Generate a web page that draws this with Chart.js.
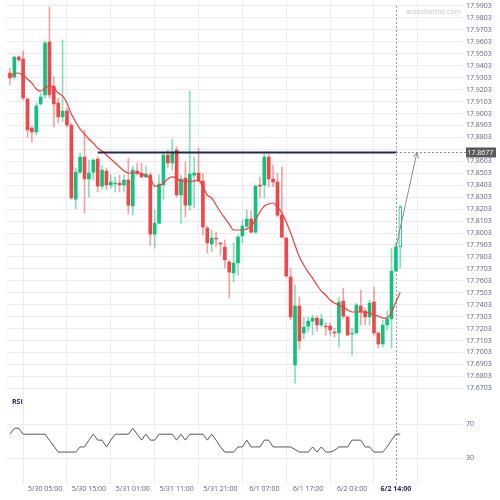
<!DOCTYPE html>
<html>
<head>
<meta charset="utf-8">
<script src="https://cdn.jsdelivr.net/npm/chart.js@4.4.0/dist/chart.umd.min.js"></script>
<style>
  html, body { margin: 0; padding: 0; background: #fff; }
</style>
</head>
<body>
<canvas id="chart" width="500" height="500"></canvas>
<script>
// hourly candles, index 0 = 5/29 21:00
const OPEN = [17.9342,17.9309,17.9476,17.9459,17.9124,17.8882,17.8848,17.9083,17.9158,17.9601,
  17.9233,17.9091,17.8974,17.9024,17.8907,17.8287,17.8513,17.8639,17.8455,17.8513,
  17.8622,17.8396,17.8522,17.8405,17.8413,17.8421,17.8405,17.8446,17.8229,17.8522,
  17.8505,17.8472,17.8488,17.7994,17.8086,17.8405,17.8656,17.8589,17.8698,17.8321,
  17.8463,17.8237,17.8488,17.8505,17.8438,17.8045,17.7911,17.7961,17.7919,17.7886,
  17.7760,17.7668,17.7752,17.7978,17.8061,17.8120,17.8011,17.8405,17.8405,17.8639,
  17.8455,17.8430,17.8153,17.7961,17.7635,17.6898,17.7392,17.7166,17.7224,17.7266,
  17.7291,17.7233,17.7224,17.7224,17.7174,17.7166,17.7434,17.7300,17.7158,17.7166,
  17.7392,17.7350,17.7300,17.7425,17.7166,17.7074,17.7233,17.7283,17.7685,17.7886];
const HIGH = [17.9384,17.9484,17.9484,17.9526,17.9133,17.8898,17.9091,17.9175,17.9610,17.9894,
  17.9309,17.9133,17.9618,17.9049,17.8924,17.8547,17.8672,17.8865,17.8614,17.8622,
  17.8639,17.8564,17.8547,17.8488,17.8472,17.8488,17.8488,17.8631,17.8564,17.8589,
  17.8589,17.8564,17.8505,17.8195,17.8488,17.8672,17.8698,17.8790,17.8723,17.8488,
  17.8597,17.9191,17.8639,17.8714,17.8505,17.8061,17.8028,17.8011,17.7928,17.7944,
  17.7777,17.7919,17.7986,17.8112,17.8195,17.8187,17.8405,17.8472,17.8681,17.8681,
  17.8572,17.8505,17.8555,17.7969,17.7710,17.7568,17.7467,17.7300,17.7300,17.7316,
  17.7308,17.7325,17.7258,17.7250,17.7208,17.7467,17.7542,17.7308,17.7208,17.7417,
  17.7526,17.7375,17.7442,17.7551,17.7174,17.7275,17.7350,17.7877,17.7919,17.8237];
const LOW = [17.9242,17.9292,17.9434,17.9116,17.8806,17.8764,17.8823,17.9074,17.9133,17.9133,
  17.8890,17.8924,17.8932,17.8890,17.8287,17.8204,17.8497,17.8170,17.8304,17.8446,
  17.8346,17.8371,17.8363,17.8379,17.8346,17.8346,17.8346,17.8162,17.8154,17.8488,
  17.8463,17.8463,17.7902,17.7877,17.8078,17.8287,17.8555,17.8530,17.8304,17.8086,
  17.8137,17.8195,17.8212,17.8430,17.7986,17.7835,17.7844,17.7886,17.7819,17.7710,
  17.7459,17.7593,17.7651,17.7919,17.8028,17.8003,17.8003,17.8296,17.8296,17.8388,
  17.8388,17.8137,17.7961,17.7635,17.7275,17.6747,17.7024,17.7116,17.7174,17.7149,
  17.7182,17.7216,17.7149,17.7149,17.7132,17.7049,17.7291,17.7141,17.6982,17.7158,
  17.7233,17.7233,17.7233,17.7149,17.7040,17.7049,17.7191,17.7040,17.7676,17.7710];
const CLOSE = [17.9300,17.9476,17.9451,17.9133,17.8865,17.8848,17.9066,17.9141,17.9593,17.9158,
  17.9083,17.8974,17.9024,17.8907,17.8296,17.8513,17.8639,17.8455,17.8505,17.8614,
  17.8396,17.8530,17.8405,17.8430,17.8421,17.8405,17.8446,17.8237,17.8530,17.8505,
  17.8472,17.8497,17.7994,17.8086,17.8413,17.8656,17.8589,17.8681,17.8321,17.8455,
  17.8237,17.8497,17.8505,17.8438,17.8053,17.7919,17.7961,17.7953,17.7911,17.7777,
  17.7676,17.7752,17.7969,17.8061,17.8120,17.8011,17.8396,17.8396,17.8639,17.8455,
  17.8430,17.8153,17.7969,17.7643,17.7300,17.7392,17.7099,17.7216,17.7266,17.7291,
  17.7233,17.7283,17.7216,17.7191,17.7166,17.7425,17.7308,17.7149,17.7166,17.7400,
  17.7342,17.7300,17.7417,17.7166,17.7074,17.7233,17.7283,17.7685,17.7886,17.8220];
const MA = [17.9309,17.9334,17.9342,17.9325,17.9292,17.9258,17.9208,17.9191,17.9216,17.9233,
  17.9216,17.9175,17.9150,17.9091,17.8999,17.8932,17.8873,17.8831,17.8790,17.8756,
  17.8714,17.8689,17.8656,17.8622,17.8589,17.8555,17.8522,17.8505,17.8505,17.8505,
  17.8497,17.8480,17.8463,17.8396,17.8396,17.8421,17.8455,17.8472,17.8463,17.8438,
  17.8438,17.8438,17.8438,17.8446,17.8388,17.8321,17.8296,17.8237,17.8179,17.8128,
  17.8078,17.8028,17.8028,17.8028,17.8036,17.8061,17.8112,17.8179,17.8229,17.8246,
  17.8254,17.8220,17.8170,17.8095,17.8003,17.7902,17.7802,17.7735,17.7676,17.7626,
  17.7568,17.7517,17.7484,17.7442,17.7417,17.7400,17.7383,17.7358,17.7342,17.7342,
  17.7342,17.7342,17.7333,17.7316,17.7308,17.7291,17.7291,17.7342,17.7425,17.7509];
const RSI = [58,65,65,58,58,58,58,58,58,51, 44,37,37,37,37,37,43,43,51,58,
  51,51,43,51,58,58,58,58,65,58, 51,58,51,51,58,58,58,58,51,58,
  51,58,58,58,58,51,58,51,43,37, 37,37,43,43,51,43,43,43,51,51,
  43,43,43,43,43,40,37,37,37,43, 37,43,37,37,39,43,43,43,51,51,
  51,43,43,37,37,37,43,51,58,58];

const TIME_TICKS = [8, 18, 28, 38, 48, 58, 68, 78, 88];
const TIME_LABELS = ['5/30 05:00', '5/30 15:00', '5/31 01:00', '5/31 11:00', '5/31 21:00',
  '6/1 07:00', '6/1 17:00', '6/2 03:00', '6/2 14:00'];
const PRICE_TICKS = [17.6703,17.6803,17.6903,17.7003,17.7103,17.7203,17.7303,17.7403,17.7503,17.7603,
  17.7703,17.7803,17.7903,17.8003,17.8103,17.8203,17.8303,17.8403,17.8503,17.8603,
  17.8703,17.8803,17.8903,17.9003,17.9103,17.9203,17.9303,17.9403,17.9503,17.9603,
  17.9703,17.9803,17.9903];
const RSI_TICKS = [30, 70];

const LEVEL = 17.8677;
const LEVEL_FROM = 20;
const NOW_INDEX = 88;
const ARROW_FROM = [88, 17.7880];
const ARROW_TO = [92.8, 17.8677];

const GREEN = '#10c27b';
const RED = '#f0464a';
const GREEN_WICK = 'rgba(16,194,123,0.5)';
const RED_WICK = 'rgba(240,70,74,0.5)';
const AXIS_TEXT = '#566685';
const NAVY = '#1d2b4f';
const GRID = '#ebebeb';

const idx = OPEN.map((_, i) => i);
const last = OPEN.length - 1;
const isUp = idx.map(i => CLOSE[i] >= OPEN[i]);

const overlay = {
  id: 'overlay',
  beforeDatasetsDraw(chart) {
    const { ctx, chartArea, scales } = chart;
    const x = scales.x.getPixelForValue(NOW_INDEX);
    ctx.save();
    ctx.strokeStyle = '#9a9a9a';
    ctx.lineWidth = 1;
    ctx.setLineDash([2, 2]);
    ctx.beginPath();
    ctx.moveTo(Math.round(x) + 0.5, chartArea.top + 6);
    ctx.lineTo(Math.round(x) + 0.5, chartArea.bottom);
    ctx.stroke();
    ctx.restore();
  },
  afterDraw(chart) {
    const { ctx, chartArea, scales } = chart;
    const xs = scales.x, ys = scales.y;
    const ly = ys.getPixelForValue(LEVEL);
    ctx.save();
    // dashed extension of the level
    ctx.strokeStyle = '#8a8a8a';
    ctx.lineWidth = 1;
    ctx.setLineDash([2, 2]);
    ctx.beginPath();
    ctx.moveTo(xs.getPixelForValue(NOW_INDEX), Math.round(ly) + 0.5);
    ctx.lineTo(chartArea.right + 3, Math.round(ly) + 0.5);
    ctx.stroke();
    ctx.setLineDash([]);

    // arrow head
    const x0 = xs.getPixelForValue(ARROW_FROM[0]), y0 = ys.getPixelForValue(ARROW_FROM[1]);
    const x1 = xs.getPixelForValue(ARROW_TO[0]), y1 = ys.getPixelForValue(ARROW_TO[1]);
    const a = Math.atan2(y1 - y0, x1 - x0);
    ctx.strokeStyle = '#8a8a8a';
    ctx.beginPath();
    ctx.moveTo(x1 - 6 * Math.cos(a - 0.5), y1 - 6 * Math.sin(a - 0.5));
    ctx.lineTo(x1, y1);
    ctx.lineTo(x1 - 6 * Math.cos(a + 0.5), y1 - 6 * Math.sin(a + 0.5));
    ctx.stroke();

    // price box
    ctx.fillStyle = '#595959';
    ctx.fillRect(chartArea.right + 3, ly - 5, 30, 10);
    ctx.fillStyle = '#ffffff';
    ctx.font = '7px "Open Sans"';
    ctx.textBaseline = 'middle';
    ctx.textAlign = 'left';
    ctx.fillText(LEVEL.toFixed(4), chartArea.right + 4.5, ly + 0.5);

    // watermark
    ctx.fillStyle = '#c3c8d2';
    ctx.textAlign = 'right';
    ctx.fillText('autochartist.com', chartArea.right - 2, 12);

    // pane title
    const r = scales.yRsi;
    ctx.fillStyle = NAVY;
    ctx.font = 'bold 7px "Open Sans"';
    ctx.textAlign = 'left';
    ctx.fillText('RSI', 12, r.top + 3);
    ctx.restore();
  }
};

new Chart(document.getElementById('chart'), {
  type: 'bar',
  data: {
    datasets: [
      {
        type: 'line',
        label: 'Level',
        data: [{ x: LEVEL_FROM, y: LEVEL }, { x: NOW_INDEX, y: LEVEL }],
        borderColor: NAVY,
        borderWidth: 2,
        pointRadius: 0,
        yAxisID: 'y',
        order: 0
      },
      {
        type: 'line',
        label: 'Target',
        data: [{ x: ARROW_FROM[0], y: ARROW_FROM[1] }, { x: ARROW_TO[0], y: ARROW_TO[1] }],
        borderColor: '#8a8a8a',
        borderWidth: 1,
        pointRadius: 0,
        yAxisID: 'y',
        order: 0
      },
      {
        type: 'line',
        label: 'MA',
        data: idx.map(i => ({ x: i, y: MA[i] })),
        borderColor: '#f03a3d',
        borderWidth: 1.2,
        pointRadius: 0,
        cubicInterpolationMode: 'monotone',
        yAxisID: 'y',
        order: 1
      },
      {
        type: 'bar',
        label: 'Body',
        data: idx.map(i => ({ x: i, y: [OPEN[i], CLOSE[i]] })),
        backgroundColor: idx.map(i => i === last ? '#ffffff' : (isUp[i] ? GREEN : RED)),
        borderColor: idx.map(i => isUp[i] ? GREEN : RED),
        borderWidth: idx.map(i => i === last ? 1 : 0),
        borderSkipped: false,
        barThickness: 3,
        minBarLength: 1,
        grouped: false,
        yAxisID: 'y',
        order: 2
      },
      {
        type: 'bar',
        label: 'Wick',
        data: idx.map(i => ({ x: i, y: [LOW[i], HIGH[i]] })),
        backgroundColor: idx.map(i => isUp[i] ? GREEN_WICK : RED_WICK),
        barThickness: 1,
        grouped: false,
        yAxisID: 'y',
        order: 3
      },
      {
        type: 'line',
        label: 'RSI',
        data: idx.map(i => ({ x: i, y: RSI[i] })),
        borderColor: '#555555',
        borderWidth: 1,
        pointRadius: 0,
        yAxisID: 'yRsi',
        order: 0
      }
    ]
  },
  options: {
    responsive: false,
    animation: false,
    devicePixelRatio: 1,
    layout: { autoPadding: false, padding: { left: 6, right: 0, top: 0, bottom: 0 } },
    plugins: { legend: { display: false }, tooltip: { enabled: false } },
    scales: {
      x: {
        type: 'linear',
        min: -0.9,
        max: 103.3,
        offset: false,
        grid: { color: GRID, drawTicks: false },
        border: { display: false },
        afterBuildTicks: s => { s.ticks = TIME_TICKS.map(v => ({ value: v })); },
        afterFit: s => { s.height = 16.5; s.paddingLeft = 0; s.paddingRight = 0; },
        ticks: {
          autoSkip: false,
          maxRotation: 0,
          padding: 1,
          color: c => c.index === TIME_TICKS.length - 1 ? NAVY : AXIS_TEXT,
          font: c => ({ family: 'Open Sans', size: 7, weight: c.index === TIME_TICKS.length - 1 ? 'bold' : 'normal' }),
          callback: (v, i) => TIME_LABELS[i]
        }
      },
      y: {
        type: 'linear',
        position: 'right',
        stack: 'panes',
        stackWeight: 398.5,
        min: 17.6618,
        max: 17.9953,
        grid: { color: GRID, drawTicks: false },
        border: { display: false },
        afterBuildTicks: s => { s.ticks = PRICE_TICKS.map(v => ({ value: v })); },
        afterFit: s => { s.width = 37; s.paddingTop = 0; s.paddingBottom = 0; },
        ticks: {
          autoSkip: false,
          padding: 3,
          color: AXIS_TEXT,
          font: { family: 'Open Sans', size: 7 },
          callback: v => Math.abs(v - 17.8703) < 1e-6 ? '' : v.toFixed(4)
        }
      },
      yRsi: {
        type: 'linear',
        position: 'right',
        stack: 'panes',
        stackWeight: 85,
        min: 0,
        max: 100,
        grid: { color: GRID, drawTicks: false },
        border: { display: false },
        afterBuildTicks: s => { s.ticks = RSI_TICKS.map(v => ({ value: v })); },
        afterFit: s => { s.width = 37; s.paddingTop = 0; s.paddingBottom = 0; },
        ticks: {
          autoSkip: false,
          padding: 3,
          color: AXIS_TEXT,
          font: { family: 'Open Sans', size: 7 }
        }
      }
    }
  },
  plugins: [overlay]
});
</script>
</body>
</html>
